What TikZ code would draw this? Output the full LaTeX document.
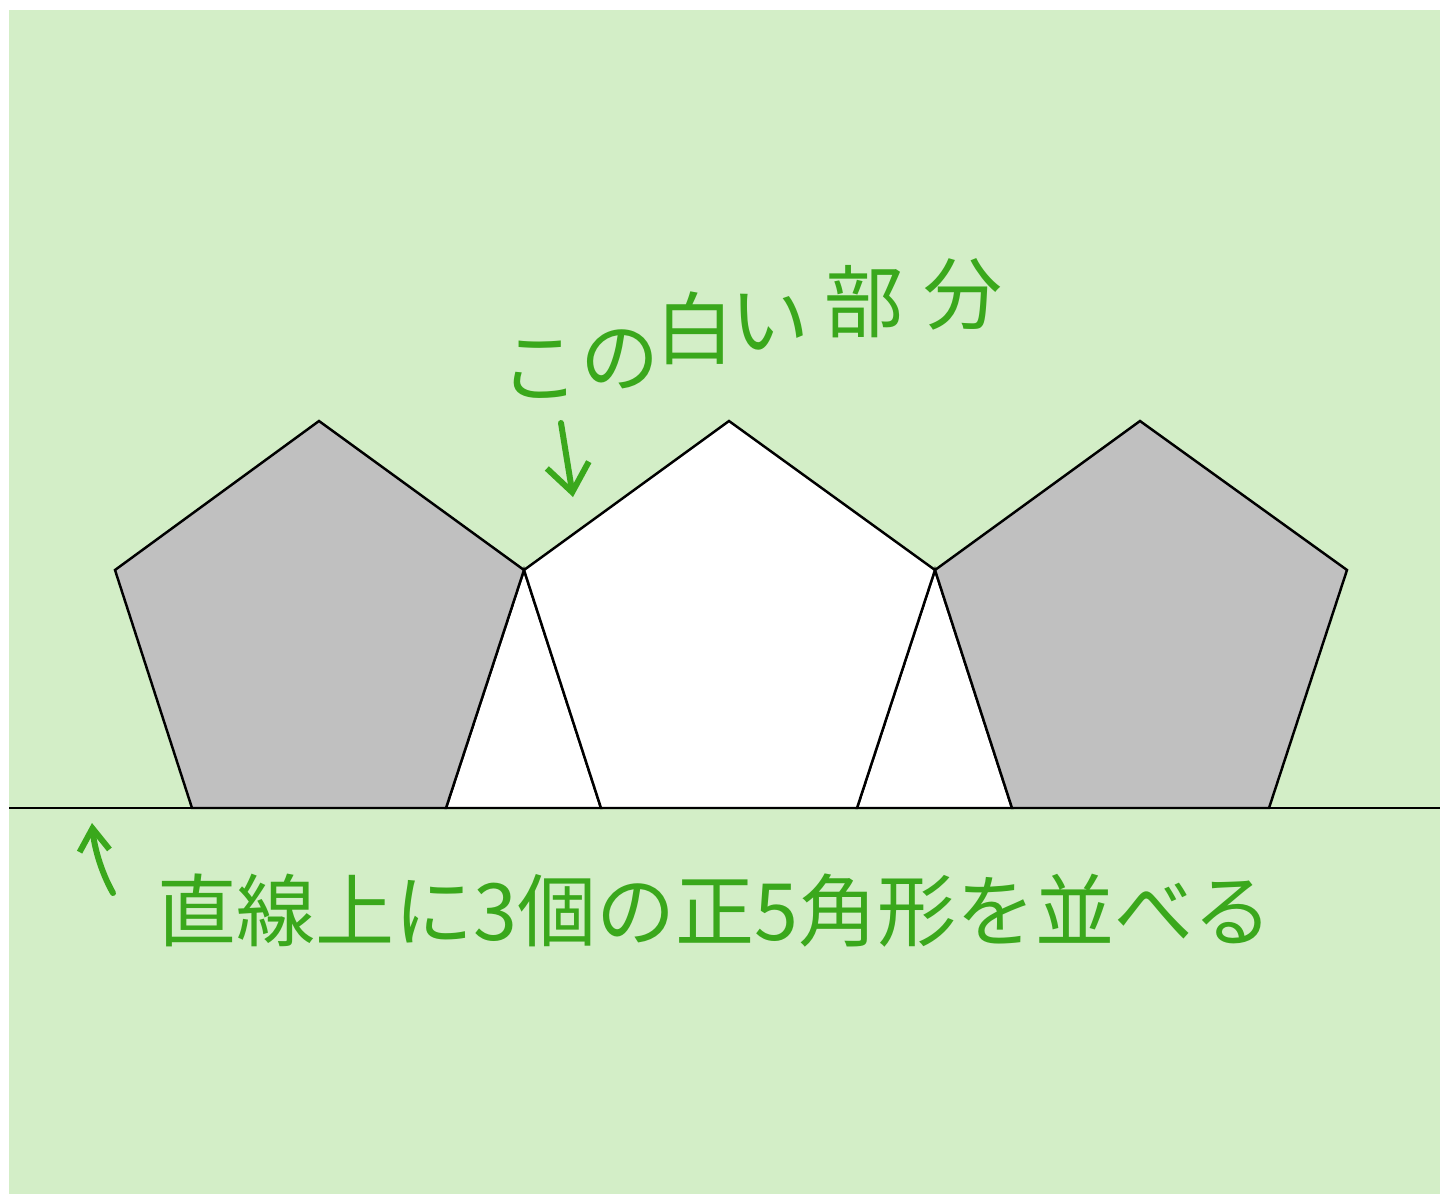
\documentclass[tikz,border=0pt]{standalone}
\usepackage{fontspec}
\newfontfamily\jpfont{Noto Sans CJK JP}
\usetikzlibrary{arrows.meta}
\definecolor{bggreen}{RGB}{211,238,199}
\definecolor{penink}{RGB}{58,168,28}
\definecolor{pentgray}{RGB}{192,192,192}
\newcommand{\rc}[2]{\raisebox{#1}{#2}}
\begin{document}
\begin{tikzpicture}[x=0.02cm,y=-0.02cm,
  edge/.style={draw=black,line width=1.4pt,line join=miter},
  grayface/.style={edge,fill=pentgray},
  whiteface/.style={edge,fill=white},
  pen/.style={draw=penink,line width=3.4pt,line cap=round,line join=round},
  hand/.style={text=penink,font=\jpfont\fontsize{45}{50}\selectfont,inner sep=0pt}]
\useasboundingbox (0,0) rectangle (1440,1194);
\fill[white] (0,0) rectangle (1440,1194);
\fill[bggreen] (9,10) rectangle (1440,1194);
% vertices
\coordinate (A1) at (192,808); \coordinate (A2) at (446,808);
\coordinate (J1) at (524,570); \coordinate (AT) at (319,421); \coordinate (AL) at (115,570);
\coordinate (B1) at (601,808); \coordinate (B2) at (857,808);
\coordinate (J2) at (935,570); \coordinate (BT) at (729,421);
\coordinate (C1) at (1012,808); \coordinate (C2) at (1269,808);
\coordinate (CR) at (1347,570); \coordinate (CT) at (1140,421);
\coordinate (LL) at (9,808); \coordinate (LR) at (1440,808);
% faces
\path[whiteface] (J1) -- (A2) -- (B1) -- cycle;
\path[whiteface] (J2) -- (B2) -- (C1) -- cycle;
\path[grayface] (A1) -- (A2) -- (J1) -- (AT) -- (AL) -- cycle;
\path[whiteface] (B1) -- (B2) -- (J2) -- (BT) -- (J1) -- cycle;
\path[grayface] (C1) -- (C2) -- (CR) -- (CT) -- (J2) -- cycle;
\draw[edge] (LL) -- (LR);
% labels
\node[hand,anchor=base west] (top) at (500,396)
  {こ\kern0.02cm\rc{0.2cm}{の}\kern-0.08cm\rc{0.76cm}{白}\kern-0.08cm\rc{0.94cm}{い}\kern0.3cm\rc{1.3cm}{部}\kern0.4cm\rc{1.46cm}{分}};
\node[hand] (bottom) at (715,911) {直線上に3個の正5角形を並べる};
% arrows
\coordinate (d1) at (561,423); \coordinate (d2) at (573,497);
\draw[pen,-{Straight Barb[length=0.55cm,width=0.85cm]}] (d1) -- (d2);
\coordinate (u1) at (113,893); \coordinate (u2) at (92,823);
\draw[pen,-{Straight Barb[length=0.45cm,width=0.6cm]}] (u1) .. controls (100,870) and (94,845) .. (u2);
\end{tikzpicture}
\end{document}
